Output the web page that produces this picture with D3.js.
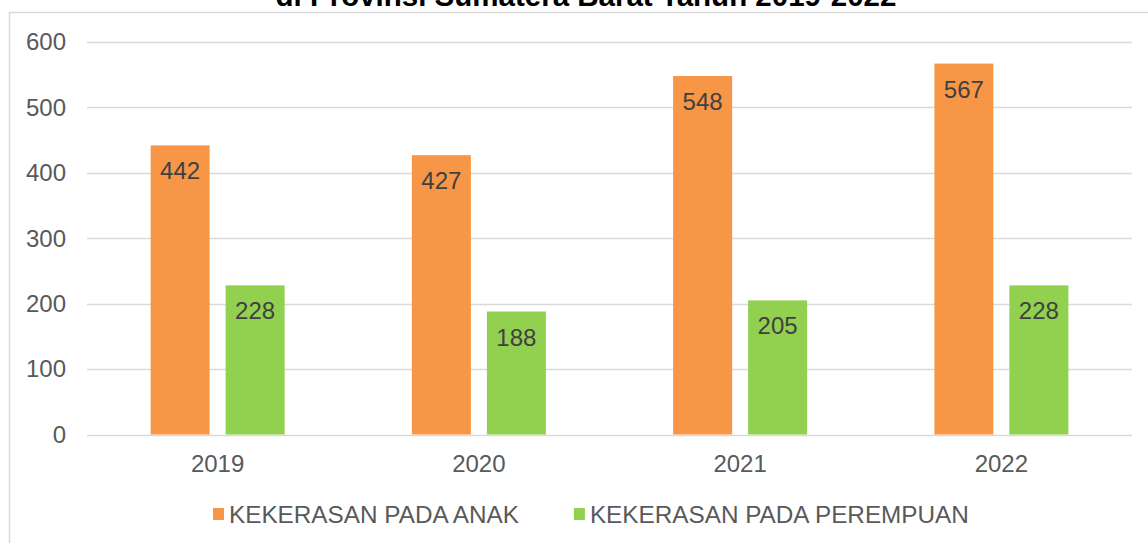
<!DOCTYPE html>
<html>
<head>
<meta charset="utf-8">
<script src="https://cdn.jsdelivr.net/npm/d3@7"></script>
<style>
  body { margin: 0; background: #fff; }
  svg { font-family: "Liberation Sans", Arial, sans-serif; }
  .tick-label { fill: #595959; font-size: 24px; }
  .bar-label { fill: #404040; font-size: 24px; }
  .legend-text { fill: #595959; font-size: 24.3px; }
  .title { fill: #000; font-size: 29.5px; font-weight: bold; }
</style>
</head>
<body>
<div class="wrapper"></div>
<script>
const years = ["2019", "2020", "2021", "2022"]
const seriesNames = ["KEKERASAN PADA ANAK", "KEKERASAN PADA PEREMPUAN"]
const anakValues = [442, 427, 548, 567]
const perempuanValues = [228, 188, 205, 228]
const yTicks = [0, 100, 200, 300, 400, 500, 600]
const seriesColors = ["#F79646", "#92D050"]
const titleText = "di Provinsi Sumatera Barat Tahun 2019-2022"

function drawChart() {
    const dimensions = {
        width: 1148,
        height: 543,
        margin: { top: 42, right: 16, bottom: 108.5, left: 87 },
    }
    dimensions.boundedWidth = dimensions.width - dimensions.margin.left - dimensions.margin.right
    dimensions.boundedHeight = dimensions.height - dimensions.margin.top - dimensions.margin.bottom

    const dataset = years.map((year, i) => ({
        year,
        values: [anakValues[i], perempuanValues[i]],
    }))

    const wrapper = d3.select(".wrapper")
        .append("svg")
        .attr("width", dimensions.width)
        .attr("height", dimensions.height)

    // chart frame (right and bottom edges fall outside the picture)
    wrapper.append("rect")
        .attr("x", 9.5)
        .attr("y", 12.5)
        .attr("width", 1300)
        .attr("height", 700)
        .attr("fill", "none")
        .attr("stroke", "#d9d9d9")
        .attr("stroke-width", 1.5)

    // title is cropped at the top edge, like in the source picture
    wrapper.append("text")
        .attr("class", "title")
        .attr("x", 586)
        .attr("y", 6)
        .attr("text-anchor", "middle")
        .text(titleText)

    const bounds = wrapper.append("g")
        .attr("transform", `translate(${dimensions.margin.left}, ${dimensions.margin.top})`)

    const yScale = d3.scaleLinear()
        .domain([0, 600])
        .range([dimensions.boundedHeight, 0])

    const xScale = d3.scaleBand()
        .domain(years)
        .range([0, dimensions.boundedWidth])
        .padding(0)

    const groupWidth = 134
    const xInner = d3.scaleBand()
        .domain(d3.range(seriesNames.length))
        .range([0, groupWidth])
        .paddingInner(16 / 75)
        .paddingOuter(0)
    const groupOffset = (xScale.bandwidth() - groupWidth) / 2

    // gridlines + y labels
    bounds.selectAll(".grid")
        .data(yTicks)
        .enter().append("line")
        .attr("class", "grid")
        .attr("x1", 0)
        .attr("x2", dimensions.boundedWidth)
        .attr("y1", d => Math.round(yScale(d)) + 0.5)
        .attr("y2", d => Math.round(yScale(d)) + 0.5)
        .attr("stroke", "#d9d9d9")
        .attr("stroke-width", 1.5)

    bounds.selectAll(".tick-label")
        .data(yTicks)
        .enter().append("text")
        .attr("class", "tick-label")
        .attr("x", -21)
        .attr("y", d => yScale(d))
        .attr("dy", "0.35em")
        .attr("text-anchor", "end")
        .text(d => d)

    // x labels
    bounds.selectAll(".x-label")
        .data(years)
        .enter().append("text")
        .attr("class", "tick-label")
        .attr("x", d => xScale(d) + xScale.bandwidth() / 2)
        .attr("y", dimensions.boundedHeight + 37)
        .attr("text-anchor", "middle")
        .text(d => d)

    const groups = bounds.selectAll(".year-group")
        .data(dataset)
        .enter().append("g")
        .attr("transform", d => `translate(${xScale(d.year) + groupOffset}, 0)`)

    const barData = d => d.values.map((v, i) => ({ v, i }))

    groups.selectAll("rect")
        .data(barData)
        .enter().append("rect")
        .attr("x", d => xInner(d.i))
        .attr("width", xInner.bandwidth())
        .attr("y", d => yScale(d.v))
        .attr("height", d => dimensions.boundedHeight - yScale(d.v))
        .attr("fill", d => seriesColors[d.i])

    groups.selectAll(".bar-label")
        .data(barData)
        .enter().append("text")
        .attr("class", "bar-label")
        .attr("x", d => xInner(d.i) + xInner.bandwidth() / 2)
        .attr("y", d => yScale(d.v) + 34)
        .attr("text-anchor", "middle")
        .text(d => d.v)

    // legend
    const legend = wrapper.append("g")
        .attr("transform", "translate(213, 514)")
    let cursor = 0
    seriesNames.forEach((name, i) => {
        legend.append("rect")
            .attr("x", cursor)
            .attr("y", -6)
            .attr("width", 11)
            .attr("height", 12)
            .attr("fill", seriesColors[i])
        const label = legend.append("text")
            .attr("class", "legend-text")
            .attr("x", cursor + 16)
            .attr("y", 0)
            .attr("dy", "0.35em")
            .text(name)
        cursor += 16 + label.node().getComputedTextLength() + 55
    })
}

drawChart()
</script>
</body>
</html>
